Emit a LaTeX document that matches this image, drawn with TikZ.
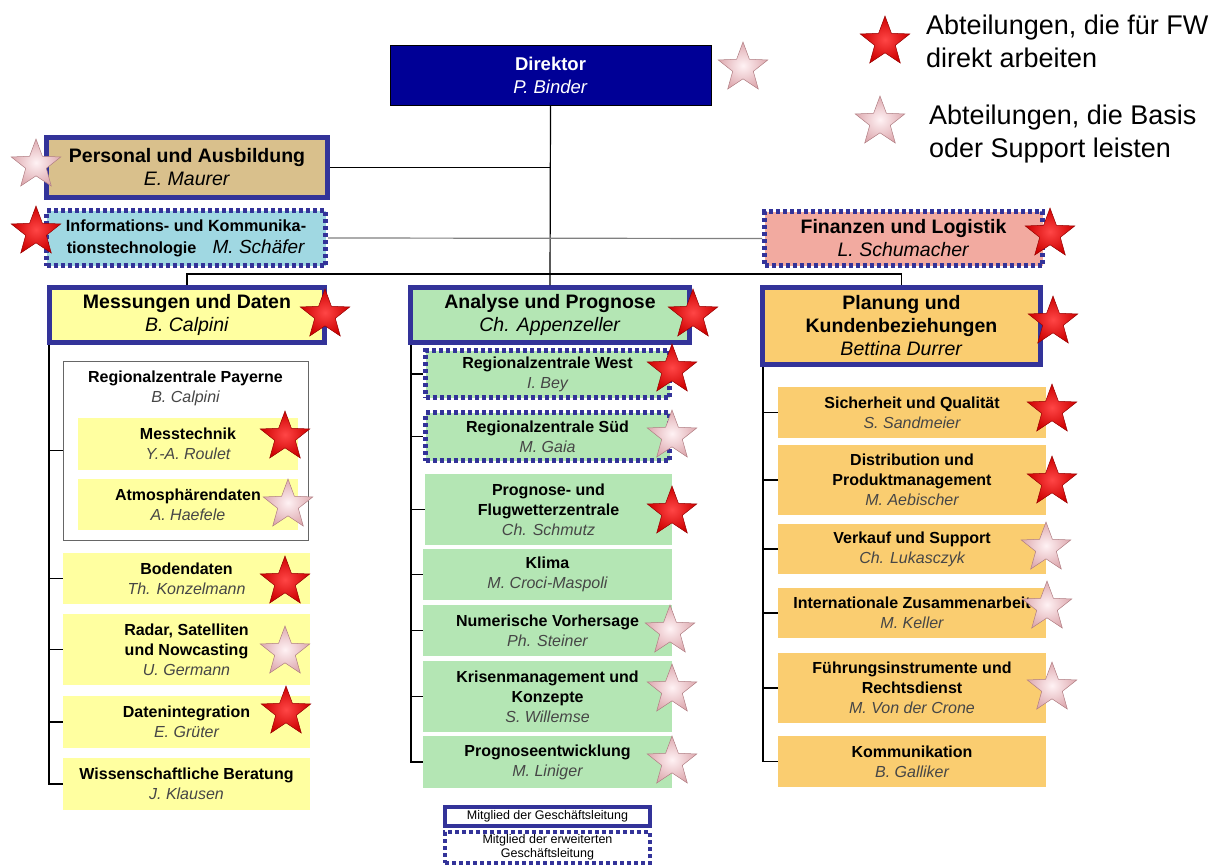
\documentclass[tikz,border=0pt]{standalone}
\usepackage{fontspec}
\setmainfont{Liberation Sans}
\usepackage{xcolor}
\usepackage{tikz}
\usetikzlibrary{shapes.geometric}

\definecolor{gbdark}{RGB}{0,0,150}
\definecolor{gbnavy}{RGB}{51,51,153}
\definecolor{gbtan}{RGB}{217,192,140}
\definecolor{gbblue}{RGB}{160,216,226}
\definecolor{gbsalmon}{RGB}{242,170,160}
\definecolor{gbyellow}{RGB}{255,255,160}
\definecolor{gbgreen}{RGB}{180,230,180}
\definecolor{gborange}{RGB}{250,205,112}
\definecolor{namegray}{RGB}{70,70,70}
\definecolor{starredin}{RGB}{255,70,70}
\definecolor{starredout}{RGB}{205,0,0}
\definecolor{starredline}{RGB}{150,0,0}
\definecolor{starpinkin}{RGB}{255,242,244}
\definecolor{starpinkout}{RGB}{222,170,176}
\definecolor{starpinkline}{RGB}{175,125,130}
\newcommand{\who}[1]{\textit{\color{namegray}#1}}

\begin{document}
\begin{tikzpicture}[x=1pt, y=-1pt,
    dept/.style={rectangle, draw=gbnavy, line width=5pt, align=center,
      inner sep=0pt, font=\fontsize{19.5}{23}\selectfont},
    unit/.style={rectangle, align=center, inner sep=0pt,
      font=\fontsize{16}{20}\selectfont},
    ext/.style={draw=gbnavy, line width=5pt, dash pattern=on 4pt off 3pt},
    sz/.style 2 args={minimum width=#1pt, minimum height=#2pt},
    conn/.style={line width=1.2pt},
    redstar/.style={star, star points=5, star point ratio=2.4,
      minimum size=52pt, inner sep=0pt, draw=starredline, line width=0.5pt,
      inner color=starredin, outer color=starredout},
    pinkstar/.style={star, star points=5, star point ratio=2.4,
      minimum size=52pt, inner sep=0pt, draw=starpinkline, line width=0.5pt,
      inner color=starpinkin, outer color=starpinkout}
  ]
  \useasboundingbox (0,0) rectangle (1228,865);

  % top level
  \node[rectangle, draw=black, line width=1pt, fill=gbdark, text=white,
    align=center, inner sep=0pt, sz={321}{60},
    font=\fontsize{18.5}{23}\selectfont] (dir) at (550.5,75.5)
    {\textbf{Direktor}\\\textit{P. Binder}};
  \node[dept, fill=gbtan, sz={281}{60}] (pers) at (187,167.5)
    {\textbf{Personal und Ausbildung}\\\textit{E. Maurer}};
  \node[rectangle, ext, fill=gbblue, sz={279}{55}, align=center, inner sep=0pt,
    font=\fontsize{16.2}{22}\selectfont] (ict) at (186,238)
    {\textbf{Informations- und Kommunika-}\\\textbf{tionstechnologie}\quad
     {\fontsize{19}{22}\selectfont\textit{M. Schäfer}}};
  \node[rectangle, ext, fill=gbsalmon, sz={278}{54}, align=center, inner sep=0pt,
    font=\fontsize{19.5}{23}\selectfont] (fin) at (903.5,238.5)
    {\textbf{Finanzen und Logistik}\\\textit{L. Schumacher}};

  \node[dept, fill=gbyellow, sz={275}{55}] (mess) at (187,315)
    {\textbf{Messungen und Daten}\\\textit{B. Calpini}};
  \node[dept, fill=gbgreen, sz={279}{55}] (ana) at (550,315)
    {\textbf{Analyse und Prognose}\\\textit{Ch. Appenzeller}};
  \node[dept, fill=gborange, sz={278}{77}] (plan) at (901.5,326)
    {\textbf{Planung und}\\\textbf{Kundenbeziehungen}\\\textit{Bettina Durrer}};

  % Messungen und Daten
  \node[rectangle, draw=gray!80!black, line width=1pt, fill=white,
    sz={245}{179}] (payer) at (185.5,450.5) {};
  \node[unit] (payerhead) at (185.5,388)
    {\textbf{Regionalzentrale Payerne}\\\who{B. Calpini}};
  \node[unit, fill=gbyellow, sz={220}{52}] (mtech) at (188,444)
    {\textbf{Messtechnik}\\\who{Y.-A. Roulet}};
  \node[unit, fill=gbyellow, sz={220}{51}] (atmo) at (188,504.5)
    {\textbf{Atmosphärendaten}\\\who{A. Haefele}};
  \node[unit, fill=gbyellow, sz={247}{51}] (boden) at (186.5,578.5)
    {\textbf{Bodendaten}\\\who{Th. Konzelmann}};
  \node[unit, fill=gbyellow, sz={247}{71}] (radar) at (186.5,649.5)
    {\textbf{Radar, Satelliten}\\\textbf{und Nowcasting}\\\who{U. Germann}};
  \node[unit, fill=gbyellow, sz={247}{52}] (dint) at (186.5,722)
    {\textbf{Datenintegration}\\\who{E. Grüter}};
  \node[unit, fill=gbyellow, sz={247}{52}] (wiss) at (186.5,784)
    {\textbf{Wissenschaftliche Beratung}\\\who{J. Klausen}};

  % Analyse und Prognose
  \node[unit, ext, fill=gbgreen, sz={244}{47}] (west) at (547.5,374)
    {\textbf{Regionalzentrale West}\\\who{I. Bey}};
  \node[unit, ext, fill=gbgreen, sz={244}{48}] (sued) at (547.5,436.5)
    {\textbf{Regionalzentrale Süd}\\\who{M. Gaia}};
  \node[unit, fill=gbgreen, sz={247}{71}] (flug) at (548.5,509.5)
    {\textbf{Prognose- und}\\\textbf{Flugwetterzentrale}\\\who{Ch. Schmutz}};
  \node[unit, fill=gbgreen, sz={249}{51}] (klima) at (547.5,574.5)
    {\textbf{Klima}\\\who{M. Croci-Maspoli}};
  \node[unit, fill=gbgreen, sz={249}{51}] (nwp) at (547.5,630.5)
    {\textbf{Numerische Vorhersage}\\\who{Ph. Steiner}};
  \node[unit, fill=gbgreen, sz={249}{71}] (krise) at (547.5,696.5)
    {\textbf{Krisenmanagement und}\\\textbf{Konzepte}\\\who{S. Willemse}};
  \node[unit, fill=gbgreen, sz={249}{52}] (pentw) at (547.5,762)
    {\textbf{Prognoseentwicklung}\\\who{M. Liniger}};

  % Planung und Kundenbeziehungen
  \node[unit, fill=gborange, sz={268}{51}] (sich) at (912,412.5)
    {\textbf{Sicherheit und Qualität}\\\who{S. Sandmeier}};
  \node[unit, fill=gborange, sz={268}{70}] (distr) at (912,480)
    {\textbf{Distribution und}\\\textbf{Produktmanagement}\\\who{M. Aebischer}};
  \node[unit, fill=gborange, sz={268}{50}] (verk) at (912,549)
    {\textbf{Verkauf und Support}\\\who{Ch. Lukasczyk}};
  \node[unit, fill=gborange, sz={268}{50}] (intl) at (912,613)
    {\textbf{Internationale Zusammenarbeit}\\\who{M. Keller}};
  \node[unit, fill=gborange, sz={268}{70}] (fuehr) at (912,688)
    {\textbf{Führungsinstrumente und}\\\textbf{Rechtsdienst}\\\who{M. Von der Crone}};
  \node[unit, fill=gborange, sz={268}{51}] (komm) at (912,761.5)
    {\textbf{Kommunikation}\\\who{B. Galliker}};

  % legend boxes
  \node[rectangle, draw=gbnavy, line width=4pt, fill=white, sz={205}{19},
    inner sep=0pt, font=\fontsize{12.5}{14}\selectfont] (gl) at (547.5,816.5)
    {Mitglied der Geschäftsleitung};
  \node[rectangle, ext, line width=4pt, fill=white, sz={205}{31},
    align=center, inner sep=0pt, font=\fontsize{12.5}{14}\selectfont] (egl)
    at (547.5,847.5) {Mitglied der erweiterten\\Geschäftsleitung};

  % connectors
  \draw[conn] (dir.south) -- (ana.north);
  \draw[conn] (pers.east) -- (pers.east -| dir.south);
  \draw[conn, gray] (ict.east) -- (fin.west);
  \draw[conn] (mess.north) -- ++(0,-11) -| (plan.north);

  \coordinate (lbus) at (49,345);
  \draw[conn] (lbus) |- (wiss.west);
  \foreach \n in {payer,boden,radar,dint}
    \draw[conn] (lbus |- \n.west) -- (\n.west);

  \coordinate (mbus) at (411,345);
  \draw[conn] (mbus) |- (pentw.west);
  \foreach \n in {west,sued,flug,klima,nwp,krise}
    \draw[conn] (mbus |- \n.west) -- (\n.west);

  \coordinate (rbus) at (763,367);
  \draw[conn] (rbus) |- (komm.west);
  \foreach \n in {sich,distr,verk,intl,fuehr}
    \draw[conn] (rbus |- \n.west) -- (\n.west);

  % stars
  \node[pinkstar] (sdir) at (743,68) {};
  \node[pinkstar] (spers) at (36,165) {};
  \node[redstar] (sict) at (36,232) {};
  \node[redstar] (sfin) at (1050,234) {};
  \node[redstar] (smess) at (325,315) {};
  \node[redstar] (sana) at (693,315) {};
  \node[redstar] (splan) at (1053,322) {};
  \node[redstar] (smtech) at (285,437) {};
  \node[pinkstar] (satmo) at (288,505) {};
  \node[redstar] (sboden) at (285,582) {};
  \node[pinkstar] (sradar) at (285,652) {};
  \node[redstar] (sdint) at (286,712) {};
  \node[redstar] (swest) at (672,370) {};
  \node[pinkstar] (ssued) at (672,436) {};
  \node[redstar] (sflug) at (672,512) {};
  \node[pinkstar] (snwp) at (670,631) {};
  \node[pinkstar] (skrise) at (672,690) {};
  \node[pinkstar] (spentw) at (672,762) {};
  \node[redstar] (ssich) at (1052,410) {};
  \node[redstar] (sdistr) at (1052,482) {};
  \node[pinkstar] (sverk) at (1046,548) {};
  \node[pinkstar] (sintl) at (1047,607) {};
  \node[pinkstar] (sfuehr) at (1052,688) {};

  % key
  \node[redstar] (keyred) at (885,42) {};
  \node[anchor=west, align=left, inner sep=0pt,
    font=\fontsize{27}{33}\selectfont] (keyredtxt) at (926,41)
    {Abteilungen, die für FW\\direkt arbeiten};
  \node[pinkstar] (keypink) at (880,122) {};
  \node[anchor=west, align=left, inner sep=0pt,
    font=\fontsize{27}{33}\selectfont] (keypinktxt) at (929,134)
    {Abteilungen, die Basis\\oder Support leisten};
\end{tikzpicture}
\end{document}
